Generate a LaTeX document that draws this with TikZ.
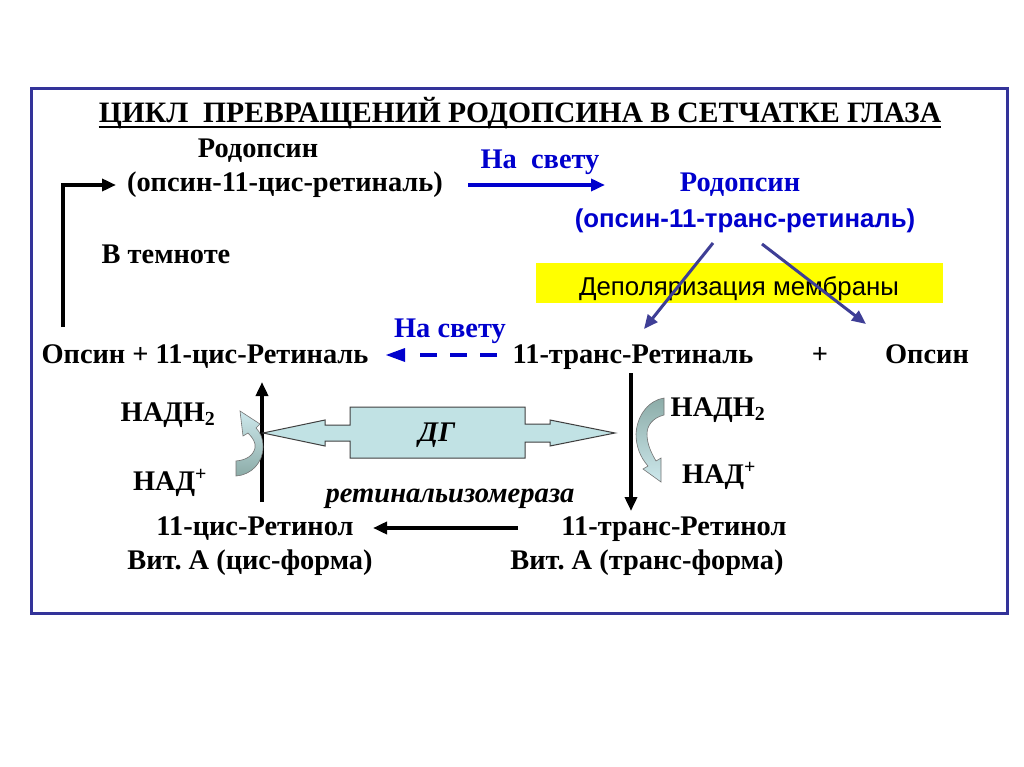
\documentclass[tikz,border=0pt]{standalone}
\usepackage{fontspec}
\setmainfont{Liberation Serif}
\newfontfamily\arialf{Liberation Sans}
\usetikzlibrary{arrows.meta}
\definecolor{framec}{RGB}{51,51,153}
\definecolor{lightblue}{RGB}{0,0,205}
\definecolor{diagc}{RGB}{62,62,150}
\definecolor{dgfill}{RGB}{193,226,228}
\definecolor{curvedark}{RGB}{140,172,168}
\definecolor{curvelight}{RGB}{205,232,236}
\definecolor{yel}{RGB}{255,255,0}
\frenchspacing
\begin{document}
\begin{tikzpicture}[x=1pt,y=-1pt,
  txt/.style={font=\fontsize{28.4}{31}\selectfont\bfseries, inner sep=0pt, anchor=base},
  btxt/.style={txt, text=lightblue},
  small/.style={font=\fontsize{28.4}{31}\selectfont\bfseries, inner sep=0pt, anchor=base},
  blk/.style={line width=3.5pt, -{Triangle[length=14pt,width=12pt]}},
  diag/.style={draw=diagc, line width=3pt, -{Triangle[length=14pt,width=12pt]}}
]
\useasboundingbox (0,0) rectangle (1024,767);
\fill[white] (0,0) rectangle (1024,767);
% frame
\draw[framec, line width=3pt] (31,89) rectangle (1007,613);

% title
\node[font=\fontsize{29.6}{32}\selectfont\bfseries, inner sep=0pt, anchor=base] (title) at (520,123) {ЦИКЛ\ \ ПРЕВРАЩЕНИЙ РОДОПСИНА В СЕТЧАТКЕ ГЛАЗА};
\draw[line width=2.2pt] ([yshift=-4pt]title.base west) -- ([yshift=-4pt]title.base east);

% top row
\node[txt] (rod1) at (258,158) {Родопсин};
\node[txt] (rod1b) at (285,192) {(опсин-11-цис-ретиналь)};
\node[btxt] (light1) at (540,169) {На\ \ свету};
\node[btxt] (rod2) at (740,192) {Родопсин};
\node[inner sep=0pt, anchor=base, text=lightblue, font=\arialf\fontsize{25.8}{28}\selectfont\bfseries] (rod2b) at (745,228) {(опсин-11-транс-ретиналь)};
\node[txt] (dark) at (166,263) {В темноте};

% yellow box
\node[fill=yel, minimum width=407pt, minimum height=40pt, inner sep=0pt] (depol) at (739.5,283) {};
\node[inner sep=0pt, anchor=base, font=\arialf\fontsize{25.8}{28}\selectfont] (depoltxt) at (739,295) {Деполяризация мембраны};

% middle row
\node[txt] (ocr) at (205,363) {Опсин + 11-цис-Ретиналь};
\node[btxt] (light2) at (450,337) {На свету};
\node[txt] (trans) at (633,363) {11-транс-Ретиналь};
\node[txt] (plus) at (820,363) {+};
\node[txt] (opsin) at (927,363) {Опсин};

% NAD labels
\node[small] (nadh2l) at (168,421) {НАДН\textsubscript{2}};
\node[small] (nadl) at (170,490) {НАД\textsuperscript{+}};
\node[small] (nadh2r) at (718,416) {НАДН\textsubscript{2}};
\node[small] (nadr) at (719,483) {НАД\textsuperscript{+}};

% bottom rows
\node[small, font=\fontsize{28.6}{31}\selectfont\bfseries\itshape] (isom) at (450,502) {ретинальизомераза};
\node[small] (crol) at (255,535) {11-цис-Ретинол};
\node[small] (cvit) at (250,569) {Вит. А (цис-форма)};
\node[small] (trol) at (674,535) {11-транс-Ретинол};
\node[small] (tvit) at (647,569) {Вит. А (транс-форма)};

% coordinates
\coordinate (e1s) at (63,327);
\coordinate (e1c) at (63,185);
\coordinate (e1e) at (116,185);
\coordinate (b1s) at (468,185);
\coordinate (b1e) at (605,185);
\coordinate (d1s) at (713,243);
\coordinate (d1e) at (644,329);
\coordinate (d2s) at (762,244);
\coordinate (d2e) at (866,324);
\coordinate (ds) at (497,355);
\coordinate (de) at (386,355);
\coordinate (ups) at (262,502);
\coordinate (upe) at (262,382);
\coordinate (dns) at (631,373);
\coordinate (dne) at (631,511);
\coordinate (bs) at (518,528);
\coordinate (be) at (373,528);

% connectors
\draw[line width=3.5pt, -{Triangle[length=14pt,width=12pt]}] (e1s) -- (e1c) -- (e1e);
\draw[lightblue, line width=3.5pt, -{Triangle[length=14pt,width=12pt]}] (b1s) -- (b1e);
\draw[diag] (d1s) -- (d1e);
\draw[diag] (d2s) -- (d2e);
\draw[lightblue, line width=4.5pt, dash pattern=on 17pt off 13pt] (ds) -- ([xshift=22pt]de);
\fill[lightblue] (de) -- ++(19,-7) -- ++(0,14) -- cycle;
\draw[blk] (ups) -- (upe);
\draw[blk] (dns) -- (dne);
\draw[blk] (bs) -- (be);

% DG double arrow
\draw[fill=dgfill, draw=black!75, line width=1pt]
  (263,433) -- (325,420) -- (325,425) -- (350,425) -- (350,407) -- (525,407) -- (525,424)
  -- (550,424) -- (550,420) -- (615,433) -- (550,446) -- (550,442) -- (525,442) -- (525,458)
  -- (350,458) -- (350,441) -- (325,441) -- (325,446) -- cycle;
\node[font=\fontsize{28.4}{31}\selectfont\bfseries\itshape, inner sep=0pt, anchor=base] (dg) at (437,441) {ДГ};

% left curved arrow (NAD+ -> NADH2)
\shade[top color=curvelight, bottom color=curvedark, draw=black!55, line width=0.6pt]
  (236,461) -- (236,476)
  .. controls (251,475) and (263,463) .. (263,447)
  .. controls (263,438) and (260,432) .. (256,428)
  -- (260,424) -- (240,411) -- (243,436) -- (248,433)
  .. controls (253,438) and (256,443) .. (255,448)
  .. controls (253,456) and (246,460) .. (236,461) -- cycle;

% right curved arrow (NADH2 -> NAD+)
\shade[top color=curvedark, bottom color=curvelight, draw=black!55, line width=0.6pt]
  (664,398) -- (664,415)
  .. controls (652,418) and (647,426) .. (647,434)
  .. controls (647,445) and (652,454) .. (656,461)
  -- (661,458) -- (661,482) -- (643,469) -- (648,466)
  .. controls (640,457) and (636,446) .. (636,434)
  .. controls (637,414) and (650,400) .. (664,398) -- cycle;

\end{tikzpicture}
\end{document}
